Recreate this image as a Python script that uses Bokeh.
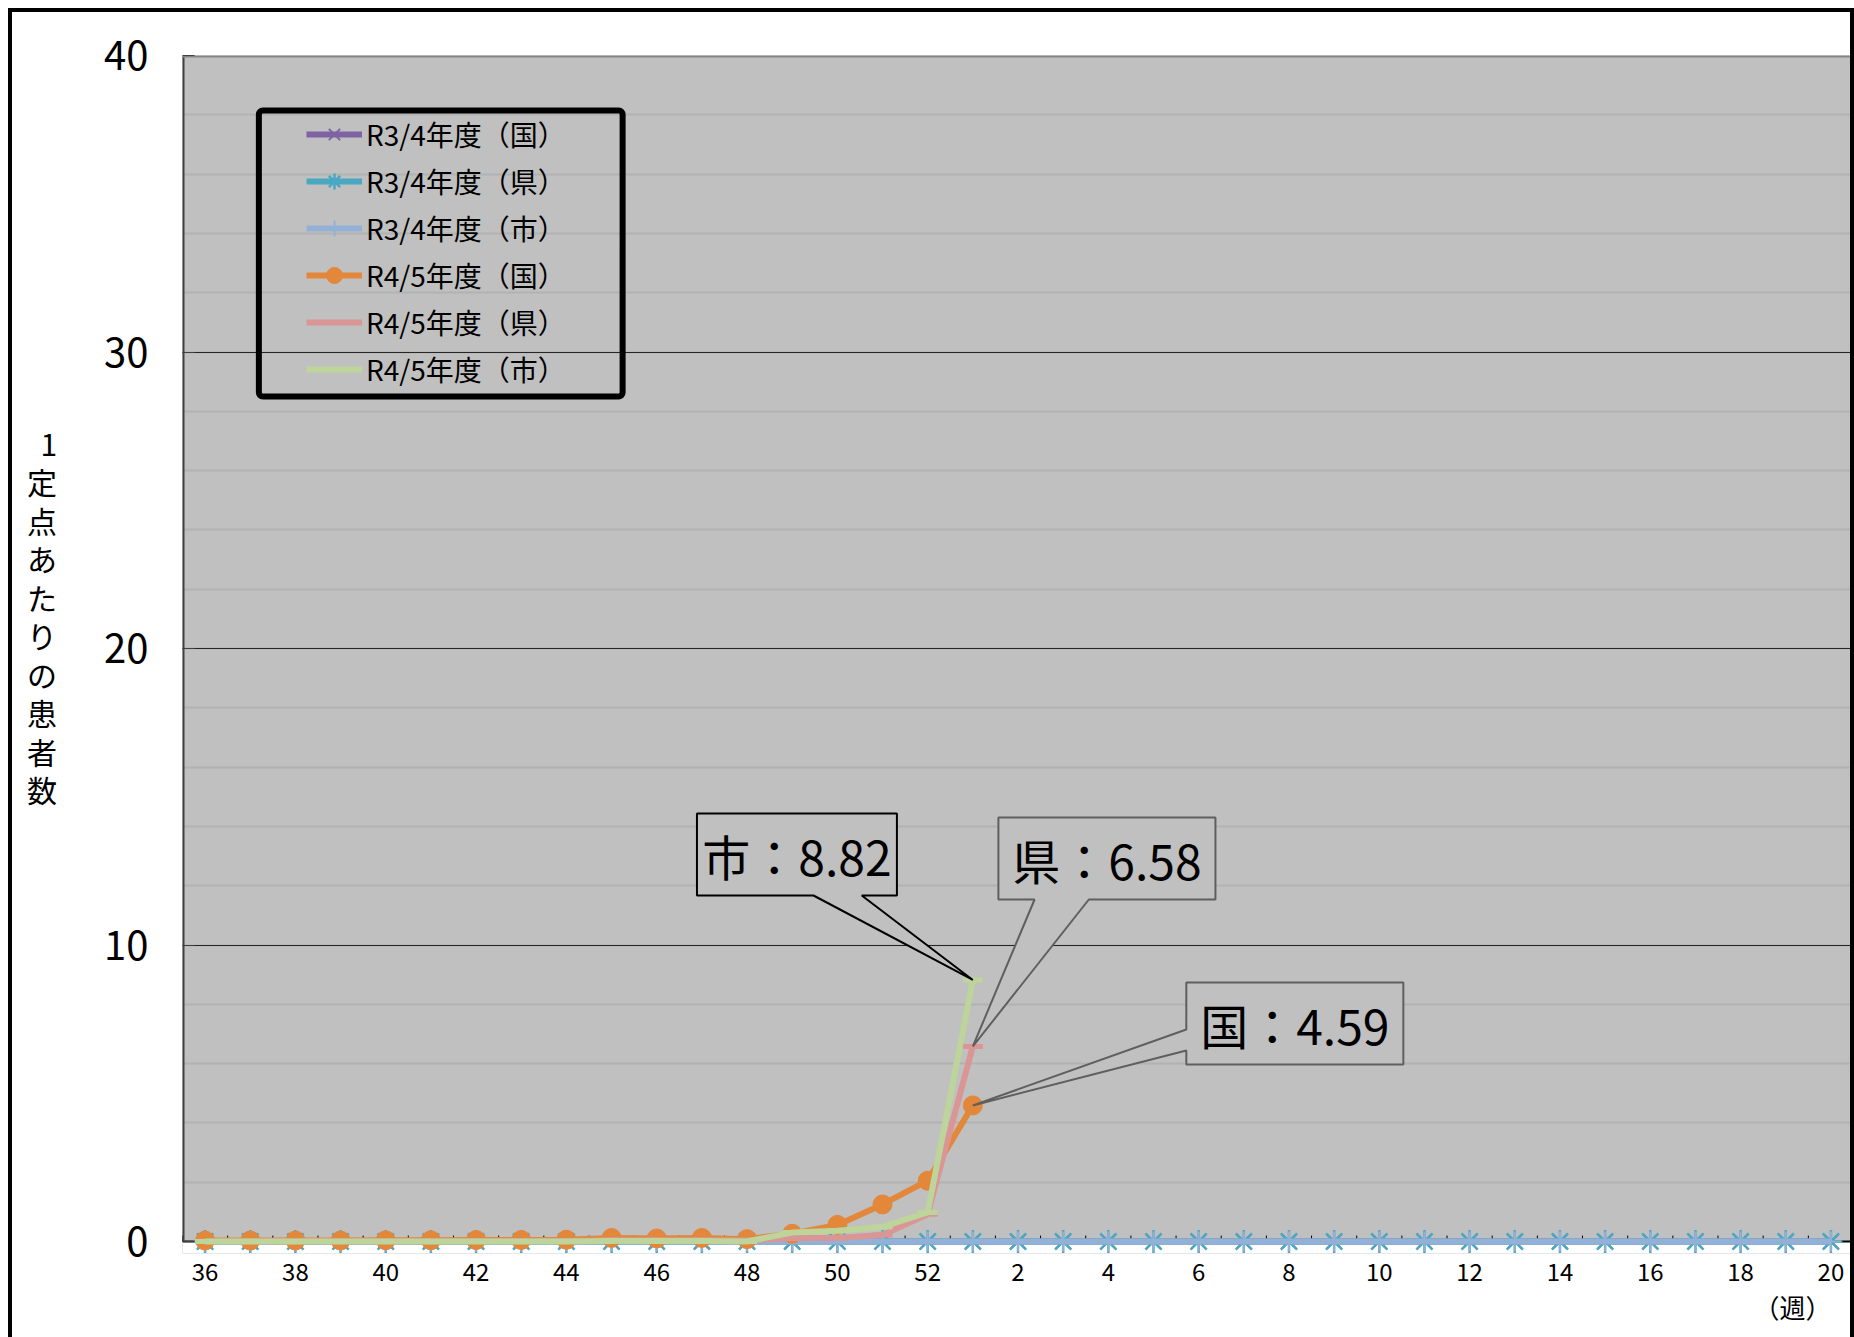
import numpy as np
from bokeh.plotting import figure
from bokeh.models import (Range1d, FixedTicker, Legend, LegendItem, Label, BoxAnnotation,
                          Span, Title)
from bokeh.embed import file_html
from bokeh.resources import INLINE

# ---------------- data ----------------
weeks = list(range(36, 53)) + list(range(1, 21))
tick_labels = [str(w) for w in weeks]

r3_kuni = [0.0] * 37
r3_ken = [0.0] * 37
r3_shi = [0.0] * 37

r4_kuni = [0.03, 0.03, 0.03, 0.03, 0.04, 0.04, 0.05, 0.05, 0.06, 0.12, 0.10, 0.12, 0.08,
           0.26, 0.56, 1.25, 2.05, 4.59]
r4_ken = [0.01, 0.01, 0.01, 0.01, 0.01, 0.01, 0.02, 0.02, 0.02, 0.04, 0.04, 0.04, 0.03,
          0.12, 0.12, 0.22, 0.92, 6.58]
r4_shi = [0.0, 0.0, 0.0, 0.0, 0.0, 0.0, 0.0, 0.0, 0.0, 0.02, 0.02, 0.02, 0.0,
          0.30, 0.36, 0.49, 0.98, 8.82]

series_names = ["R3/4年度（国）", "R3/4年度（県）", "R3/4年度（市）",
                "R4/5年度（国）", "R4/5年度（県）", "R4/5年度（市）"]

FONT = "Noto Sans CJK JP"

def pad(vals):
    return list(vals) + [np.nan] * (37 - len(vals))

xs = list(range(len(weeks)))
YMIN = -12 / 29.65

# ---------------- figure ----------------
p = figure(width=1838, height=1325,
           x_range=Range1d(-0.5, 36.5), y_range=Range1d(YMIN, 40),
           output_backend="svg", toolbar_location=None,
           min_border_left=170, min_border_top=43, min_border_right=5, min_border_bottom=88,
           background_fill_color="#c0c0c0", border_fill_color="white",
           styles={"box-sizing": "content-box", "margin-left": "8px", "margin-top": "8px",
                   "border-top": "4px solid black", "border-left": "4px solid black",
                   "border-right": "4px solid black"})
p.outline_line_color = None

# x axis (labels only; baseline and ticks drawn at y = 0)
p.xaxis.ticker = FixedTicker(ticks=list(range(0, 37, 2)))
p.xaxis.major_label_overrides = {i: tick_labels[i] for i in range(37)}
p.xaxis.major_tick_line_color = None
p.xaxis.minor_tick_line_color = None
p.xaxis.axis_line_color = None
p.xaxis.major_label_text_font = FONT
p.xaxis.major_label_text_font_size = "24px"
p.xaxis.major_label_text_color = "black"
p.xaxis.major_label_standoff = 3

# y axis
p.yaxis.ticker = FixedTicker(ticks=[0, 10, 20, 30, 40], minor_ticks=list(range(2, 40, 2)))
p.yaxis.major_tick_in = 12
p.yaxis.major_tick_out = 0
p.yaxis.major_tick_line_color = "#404040"
p.yaxis.minor_tick_line_color = None
p.yaxis.axis_line_color = None
p.yaxis.major_label_text_font = FONT
p.yaxis.major_label_text_font_size = "40px"
p.yaxis.major_label_text_color = "black"
p.yaxis.major_label_standoff = 30
p.yaxis.axis_label = "1\n定\n点\nあ\nた\nり\nの\n患\n者\n数\n\n"
p.yaxis.axis_label_orientation = "horizontal"
p.yaxis.axis_label_text_font = FONT
p.yaxis.axis_label_text_font_size = "30px"
p.yaxis.axis_label_text_font_style = "normal"
p.yaxis.axis_label_text_line_height = 0.875
p.yaxis.axis_label_text_color = "black"
p.yaxis.axis_label_standoff = 44

p.xgrid.grid_line_color = None
p.ygrid.grid_line_color = "#262626"
p.ygrid.grid_line_width = 1
p.ygrid.minor_grid_line_color = "#b2b2b2"
p.ygrid.minor_grid_line_width = 2

# white area below zero, under the series
p.add_layout(BoxAnnotation(top=0, fill_color="white", fill_alpha=1, line_alpha=0,
                           level="underlay"))
p.add_layout(Span(location=0, dimension="width", line_color="black", line_width=2,
                  level="underlay"))
# plot-area edges and category tick marks
p.segment(x0=[-0.5], y0=[0], x1=[-0.5], y1=[40], line_color="#404040", line_width=4)
p.segment(x0=[-0.5, 36.5], y0=[40, 0], x1=[36.5, 36.5], y1=[40, 40],
          line_color="#858585", line_width=4)
bounds = [i - 0.5 for i in range(len(weeks) + 1)]
p.segment(x0=bounds, y0=[0] * len(bounds), x1=bounds, y1=[0.2] * len(bounds),
          line_color="black", line_width=1)

# ---------------- series ----------------
colors = ["#7f62a1", "#4aa8c2", "#93b1d6", "#e3873a", "#d99694", "#bdd49a"]
markers = ["x", "asterisk", "cross", "circle", "dash", "dash"]
all_vals = [pad(r3_kuni), pad(r3_ken), pad(r3_shi), pad(r4_kuni), pad(r4_ken), pad(r4_shi)]

items = []
for name, c, m, v in zip(series_names, colors, markers, all_vals):
    ln = p.line(xs, v, line_color=c, line_width=6)
    if m == "circle":
        sc = p.scatter(xs, v, marker="circle", size=19, fill_color=c, line_color=c)
    elif m == "dash":
        sc = p.scatter(xs, v, marker="dash", size=20, line_color=c, line_width=5)
    elif m == "asterisk":
        sc = p.scatter(xs, v, marker=m, size=23, line_color=c, line_width=2.5)
    else:
        sc = p.scatter(xs, v, marker=m, size=20, line_color=c, line_width=2)
    items.append(LegendItem(label=name, renderers=[ln, sc]))

legend = Legend(items=items, location=(124, 864),
                border_line_color=None, background_fill_alpha=0,
                glyph_width=56, glyph_height=40, label_height=40,
                spacing=7, padding=10, margin=0, label_standoff=4,
                label_text_font=FONT, label_text_font_size="28px",
                label_text_color="black")
p.add_layout(legend)

# helpers: pixel position on page -> data coordinates (layout only)
def px2x(px):
    return (px - 182) / 44.946 - 0.5

def py2y(py):
    return (1241 - py) / 29.65

p.add_layout(BoxAnnotation(left=px2x(258), right=px2x(620), top=py2y(110), bottom=py2y(396),
                           fill_alpha=0, line_color="black", line_alpha=1, line_width=6,
                           border_radius=4))

# ---------------- callouts ----------------
tip_i = 17  # week 1
def callout_bottom(L, R, T, B, b1, b2, tip, color, text):
    xsb = [px2x(L), px2x(R), px2x(R), px2x(b2), tip[0], px2x(b1), px2x(L)]
    ysb = [py2y(T), py2y(T), py2y(B), py2y(B), tip[1], py2y(B), py2y(B)]
    p.patch(xsb, ysb, fill_color="#c0c0c0", line_color=color, line_width=2)
    p.add_layout(Label(x=(px2x(L) + px2x(R)) / 2, y=(py2y(T) + py2y(B)) / 2, text=text,
                       text_align="center", text_baseline="middle",
                       text_font=FONT, text_font_size="48px", text_color="black"))

def callout_left(L, R, T, B, a1, a2, tip, color, text):
    xsb = [px2x(L), px2x(R), px2x(R), px2x(L), px2x(L), tip[0], px2x(L)]
    ysb = [py2y(T), py2y(T), py2y(B), py2y(B), py2y(a2), tip[1], py2y(a1)]
    p.patch(xsb, ysb, fill_color="#c0c0c0", line_color=color, line_width=2)
    p.add_layout(Label(x=(px2x(L) + px2x(R)) / 2, y=(py2y(T) + py2y(B)) / 2, text=text,
                       text_align="center", text_baseline="middle",
                       text_font=FONT, text_font_size="48px", text_color="black"))

callout_bottom(694, 893, 813, 895, 810, 858, (tip_i, r4_shi[tip_i]), "black", "市：8.82")
callout_bottom(994, 1210, 817, 899, 1030, 1084, (tip_i, r4_ken[tip_i]), "#5f5f5f", "県：6.58")
callout_left(1181, 1397, 982, 1064, 1029, 1050, (tip_i, r4_kuni[tip_i]), "#5f5f5f", "国：4.59")

# ---------------- x axis unit ----------------
p.add_layout(Title(text="（週）", align="right", offset=22, standoff=4,
                   text_font=FONT, text_font_size="26px", text_font_style="normal",
                   text_color="black"), "below")

open("out.html", "w").write(file_html(p, INLINE))
